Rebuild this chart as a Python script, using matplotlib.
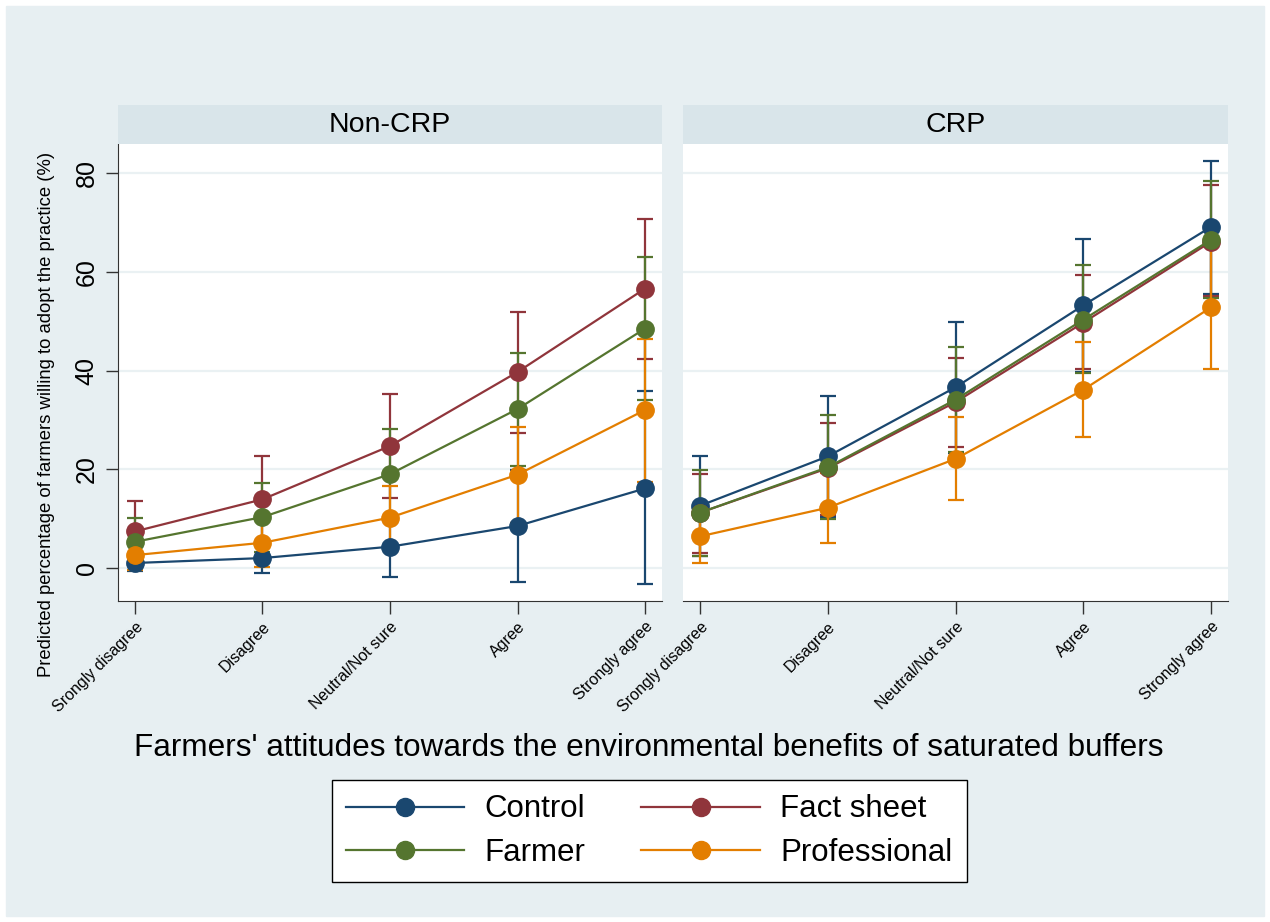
import matplotlib
matplotlib.use("Agg")
import matplotlib.pyplot as plt
from matplotlib.patches import Rectangle
from matplotlib.lines import Line2D

plt.rcParams["font.family"] = ["Liberation Sans", "DejaVu Sans"]

categories = ["Srongly disagree", "Disagree", "Neutral/Not sure", "Agree", "Strongly agree"]
panels = ["Non-CRP", "CRP"]
groups = ["Control", "Fact sheet", "Farmer", "Professional"]
colors = ["#1a476f", "#90353b", "#55752f", "#e37e00"]

# Non-CRP: estimate, lower, upper
noncrp_est = {
    "Control": [1.0, 2.0, 4.3, 8.5, 16.1],
    "Fact sheet": [7.4, 13.9, 24.7, 39.7, 56.6],
    "Farmer": [5.3, 10.3, 19.0, 32.2, 48.5],
    "Professional": [2.6, 5.1, 10.2, 18.9, 32.0],
}
noncrp_lo = {
    "Control": [-0.6, -1.1, -1.8, -2.8, -3.3],
    "Fact sheet": [1.2, 5.1, 14.1, 27.4, 42.4],
    "Farmer": [0.5, 3.3, 9.8, 20.7, 34.1],
    "Professional": [-0.5, 0.2, 3.8, 9.2, 17.4],
}
noncrp_hi = {
    "Control": [2.6, 5.1, 10.4, 19.8, 35.9],
    "Fact sheet": [13.6, 22.7, 35.3, 51.8, 70.7],
    "Farmer": [10.1, 17.3, 28.2, 43.6, 63.0],
    "Professional": [5.7, 10.0, 16.6, 28.6, 46.4],
}

# CRP
crp_est = {
    "Control": [12.6, 22.6, 36.6, 53.2, 69.1],
    "Fact sheet": [11.2, 20.2, 33.6, 49.7, 66.1],
    "Farmer": [11.2, 20.4, 34.1, 50.3, 66.5],
    "Professional": [6.4, 12.2, 22.1, 36.1, 52.8],
}
crp_lo = {
    "Control": [2.5, 10.3, 23.3, 39.7, 55.5],
    "Fact sheet": [3.1, 10.7, 24.6, 40.3, 55.0],
    "Farmer": [2.4, 9.9, 23.5, 39.5, 54.7],
    "Professional": [0.9, 5.1, 13.8, 26.5, 40.3],
}
crp_hi = {
    "Control": [22.7, 34.9, 49.9, 66.7, 82.5],
    "Fact sheet": [19.0, 29.3, 42.6, 59.4, 77.5],
    "Farmer": [19.9, 30.9, 44.7, 61.3, 78.5],
    "Professional": [11.9, 19.3, 30.5, 45.8, 65.3],
}

panel_data = [(noncrp_est, noncrp_lo, noncrp_hi), (crp_est, crp_lo, crp_hi)]

BG = "#e7eff2"
STRIP = "#d9e5ea"
GRID = "#eaf1f3"

W, H = 1270, 922
fig = plt.figure(figsize=(W / 100, H / 100), dpi=100)
fig.patches.append(Rectangle((6 / W, 6 / H), 1 - 12 / W, 1 - 12 / H,
                             transform=fig.transFigure, color=BG, zorder=-10))

def fx(px):
    return px / W

def fy(py):
    return 1 - py / H

xs = list(range(1, len(categories) + 1))
panel_px = [(118, 662), (683, 1228)]
top_px, bot_px, strip_px = 144, 601, 105

for i, (name, (est, lo, hi)) in enumerate(zip(panels, panel_data)):
    x0, x1 = panel_px[i]
    ax = fig.add_axes([fx(x0), fy(bot_px), fx(x1 - x0), (bot_px - top_px) / H])
    ax.set_facecolor("white")
    for y in [0, 20, 40, 60, 80]:
        ax.axhline(y, color=GRID, lw=1.6, zorder=0)
    for g, c in zip(groups, colors):
        e = est[g]
        yerr = [[e[k] - lo[g][k] for k in range(5)], [hi[g][k] - e[k] for k in range(5)]]
        ax.errorbar(xs, e, yerr=yerr, color=c, lw=1.6, elinewidth=1.6,
                    capsize=5.5, capthick=1.6, marker="o", markersize=12.5, zorder=3)
    ax.set_xlim(0.867, 5.133)
    ax.set_ylim(-6.7, 85.9)
    ax.spines["top"].set_visible(False)
    ax.spines["right"].set_visible(False)
    ax.spines["bottom"].set_color("#333333")
    ax.spines["left"].set_color("#333333")
    ax.set_xticks(xs)
    ax.set_xticklabels(categories, rotation=45, ha="right", rotation_mode="anchor",
                       fontsize=11.5)
    ax.tick_params(axis="x", length=9, width=1, colors="#333333", labelcolor="black", pad=4)
    if i == 0:
        ax.set_yticks([0, 20, 40, 60, 80])
        ax.set_yticklabels(["0", "20", "40", "60", "80"], rotation=90, va="center",
                           fontsize=18)
        ax.tick_params(axis="y", length=9, width=1, colors="#333333", labelcolor="black",
                       pad=5)
    else:
        ax.spines["left"].set_visible(False)
        ax.set_yticks([])

    sax = fig.add_axes([fx(x0), fy(top_px), fx(x1 - x0), (top_px - strip_px) / H])
    sax.set_facecolor(STRIP)
    sax.set_xticks([])
    sax.set_yticks([])
    for s in sax.spines.values():
        s.set_visible(False)
    sax.text(0.5, 0.5, name, ha="center", va="center", fontsize=20.5, transform=sax.transAxes)

fig.text(fx(47), fy(414), "Predicted percentage of farmers willing to adopt the practice (%)",
         rotation=90, ha="center", va="center", fontsize=13.3)

fig.text(fx(649), fy(748), "Farmers' attitudes towards the environmental benefits of saturated buffers",
         ha="center", va="center", fontsize=22.7)

handles = [Line2D([], [], color=c, lw=1.6, marker="o", markersize=13) for c in colors]
# order for 2-column layout: Control, Farmer | Fact sheet, Professional
order = [0, 2, 1, 3]
leg = fig.legend([handles[k] for k in order], [groups[k] for k in order], ncol=2,
                 loc="center", bbox_to_anchor=(fx(649), fy(831)), fontsize=22.5,
                 frameon=True, fancybox=False, edgecolor="black", facecolor="white",
                 handlelength=3.8, columnspacing=1.8, borderpad=0.45, labelspacing=0.42,
                 handletextpad=0.64)
leg.get_frame().set_linewidth(1.0)
leg.get_frame().set_alpha(1)

fig.savefig("out.png", dpi=100)
